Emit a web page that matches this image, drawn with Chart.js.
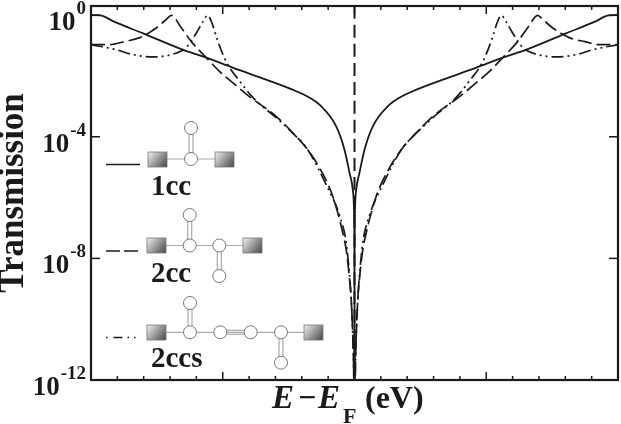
<!DOCTYPE html>
<html>
<head>
<meta charset="utf-8">
<title>Transmission</title>
<script src="https://cdn.jsdelivr.net/npm/chart.js@4"></script>
<style>
  html, body { margin: 0; padding: 0; background: #fff; }
  canvas { display: block; }
</style>
</head>
<body>
<canvas id="chart" width="621" height="424"></canvas>
<script>
// ---------------- DATA (left half, the curves are mirror symmetric) ----------------
const e1cc = [2, 1.93, 1.83, 1.6, 1.305, 1.125, 0.925, 0.67, 0.47, 0.34, 0.266, 0.139, 0.076, 0.038, 0.013, 0.005, 0.002, 0.0005, 0.0001, 0.00002, 0.000004, 0];
const t1cc = [1, 0.985, 0.625, 0.246, 0.0733, 0.04, 0.0188, 0.00755, 0.00354, 0.00193, 0.00114, 2.2e-4, 3.76e-5, 6.6e-6, 1.82e-6, 5.8e-7, 1.28e-7, 9e-9, 4.4e-10, 2.1e-11, 1.2e-12, 1e-14];

const e2cc = [2, 1.86, 1.75, 1.63, 1.505, 1.43, 1.39, 1.32, 1.24, 1.125, 1.025, 0.925, 0.8, 0.595, 0.47, 0.355, 0.266, 0.165, 0.089, 0.063, 0.043, 0.025, 0.012, 0.005, 0];
const t2cc = [0.107, 0.107, 0.134, 0.182, 0.379, 0.711, 0.985, 0.418, 0.137, 0.04, 0.0142, 0.00602, 0.00213, 4.7e-4, 1.36e-4, 3.76e-5, 9.6e-6, 1.1e-6, 7e-8, 1.93e-8, 3.6e-9, 4.4e-10, 2.1e-11, 1e-12, 1e-14];

const e2ccs = [2, 1.81, 1.68, 1.53, 1.35, 1.28, 1.2, 1.15, 1.115, 1.08, 1.05, 0.975, 0.87, 0.77, 0.595, 0.47, 0.355, 0.215, 0.11, 0.063, 0.04, 0.025, 0.012, 0.005, 0];
const t2ccs = [0.107, 0.0733, 0.0502, 0.0422, 0.0571, 0.0834, 0.26, 0.611, 0.985, 0.525, 0.2, 0.0302, 0.00664, 0.00193, 4.25e-4, 1.33e-4, 3.76e-5, 2.65e-6, 2.35e-7, 3.3e-8, 3.6e-9, 4.4e-10, 2.1e-11, 1e-12, 1e-14];

// dashed vertical at the Fermi level
const eFermi = [0, 0];
const tFermi = [1e-12, 2];

const yTicks = [1, 1e-4, 1e-8, 1e-12];
const yExponents = ["0", "-4", "-8", "-12"];
const xMajor = [-2, -1, 0, 1, 2];
const xMinor = [-1.8, -1.6, -1.4, -1.2, -0.8, -0.6, -0.4, -0.2, 0.2, 0.4, 0.6, 0.8, 1.2, 1.4, 1.6, 1.8];

const SERIF = '"Liberation Serif"';
const INK = "#1a1a1a";

// both halves, left to right
function mirrored(xs, ys) {
    const pts = xs.map((x, i) => ({ x: -x, y: ys[i] }));
    for (let i = xs.length - 2; i >= 0; i--) pts.push({ x: xs[i], y: ys[i] });
    return pts;
}

// ---------------- FRAME, TICKS, LABELS ----------------
const framePlugin = {
    id: "frame",
    afterDraw(chart) {
        const { ctx, chartArea: a, scales } = chart;
        ctx.save();
        ctx.strokeStyle = INK;
        ctx.lineWidth = 1.5;
        const seg = (x1, y1, x2, y2) => {
            ctx.beginPath(); ctx.moveTo(x1, y1); ctx.lineTo(x2, y2); ctx.stroke();
        };
        xMajor.forEach(v => {
            const x = scales.x.getPixelForValue(v);
            seg(x, a.bottom, x, a.bottom - 8);
            seg(x, a.top, x, a.top + 8);
        });
        xMinor.forEach(v => {
            const x = scales.x.getPixelForValue(v);
            seg(x, a.bottom, x, a.bottom - 4);
            seg(x, a.top, x, a.top + 4);
        });
        yTicks.forEach(v => {
            const y = scales.y.getPixelForValue(v);
            seg(a.left, y, a.left + 9, y);
            seg(a.right, y, a.right - 9, y);
        });
        ctx.lineWidth = 2.2;
        ctx.strokeRect(a.left, a.top, a.right - a.left, a.bottom - a.top);

        // y tick labels with superscript
        ctx.fillStyle = INK;
        ctx.textBaseline = "alphabetic";
        ctx.textAlign = "right";
        yTicks.forEach((v, i) => {
            const y = scales.y.getPixelForValue(v);
            ctx.font = "bold 19px " + SERIF;
            const w = ctx.measureText(yExponents[i]).width;
            ctx.fillText(yExponents[i], 86, y - 1);
            ctx.font = "bold 27px " + SERIF;
            ctx.fillText("10", 86 - w - 1, y + 15);
        });

        // x axis title
        ctx.textAlign = "left";
        ctx.font = "italic bold 33px " + SERIF;
        ctx.fillText("E", 272, 408);
        ctx.fillText("E", 318, 408);
        ctx.font = "bold 32px " + SERIF;
        ctx.fillText("\u2212", 298, 408);
        ctx.fillText("(eV)", 365, 408);
        ctx.font = "bold 22px " + SERIF;
        ctx.fillText("F", 343, 423);
        ctx.restore();
    }
};

// ---------------- MOLECULE SKETCHES IN THE LEGEND ----------------
function lead(ctx, x, y) {
    const g = ctx.createLinearGradient(x, y, x + 19, y + 15);
    g.addColorStop(0, "#f2f2f2");
    g.addColorStop(1, "#444");
    ctx.fillStyle = g;
    ctx.fillRect(x, y, 19, 15);
    ctx.strokeStyle = "#777";
    ctx.lineWidth = 0.8;
    ctx.strokeRect(x, y, 19, 15);
}

function bond(ctx, x1, y1, x2, y2) {
    ctx.strokeStyle = "#aaa";
    ctx.lineWidth = 1.2;
    ctx.beginPath(); ctx.moveTo(x1, y1); ctx.lineTo(x2, y2); ctx.stroke();
}

function doubleBond(ctx, x1, y1, x2, y2) {
    if (x1 === x2) {
        bond(ctx, x1 - 2, y1, x2 - 2, y2);
        bond(ctx, x1 + 2, y1, x2 + 2, y2);
    } else {
        bond(ctx, x1, y1 - 2, x2, y2 - 2);
        bond(ctx, x1, y1 + 2, x2, y2 + 2);
    }
}

function atom(ctx, x, y) {
    ctx.fillStyle = "#fff";
    ctx.strokeStyle = "#777";
    ctx.lineWidth = 1;
    ctx.beginPath(); ctx.arc(x, y, 6.5, 0, Math.PI * 2); ctx.fill(); ctx.stroke();
}

function sampleLine(ctx, y, dash) {
    ctx.strokeStyle = INK;
    ctx.lineWidth = 1.4;
    ctx.setLineDash(dash);
    ctx.beginPath(); ctx.moveTo(106, y); ctx.lineTo(140, y); ctx.stroke();
    ctx.setLineDash([]);
}

const keyPlugin = {
    id: "key",
    afterDraw(chart) {
        const ctx = chart.ctx;
        ctx.save();

        // 1cc
        sampleLine(ctx, 164.5, []);
        bond(ctx, 167, 159, 215, 159);
        doubleBond(ctx, 191, 128, 191, 159);
        lead(ctx, 148, 152);
        lead(ctx, 215, 152);
        atom(ctx, 191, 128);
        atom(ctx, 191, 159);

        // 2cc
        sampleLine(ctx, 251, [14, 4]);
        bond(ctx, 166, 245.5, 243, 245.5);
        doubleBond(ctx, 189.7, 215, 189.7, 245.5);
        doubleBond(ctx, 219.3, 245.5, 219.3, 276);
        lead(ctx, 147, 238);
        lead(ctx, 243, 238);
        atom(ctx, 189.7, 215);
        atom(ctx, 189.7, 245.5);
        atom(ctx, 219.3, 245.5);
        atom(ctx, 219.3, 276);

        // 2ccs
        sampleLine(ctx, 337.5, [1.5, 6, 9, 5, 1.5, 5, 1.5, 20]);
        bond(ctx, 166, 332.3, 304, 332.3);
        doubleBond(ctx, 190, 303, 190, 332.3);
        doubleBond(ctx, 220.3, 332.3, 250.7, 332.3);
        doubleBond(ctx, 281, 332.3, 281, 362.7);
        lead(ctx, 147, 325);
        lead(ctx, 304, 325);
        [[190, 303], [190, 332.3], [220.3, 332.3], [250.7, 332.3], [281, 332.3], [281, 362.7]]
            .forEach(p => atom(ctx, p[0], p[1]));

        ctx.fillStyle = INK;
        ctx.font = "bold 29px " + SERIF;
        ctx.textAlign = "left";
        ctx.fillText("1cc", 151, 195);
        ctx.fillText("2cc", 151, 282);
        ctx.fillText("2ccs", 151, 367);
        ctx.restore();
    }
};

// ---------------- CHART ----------------
const line = (label, data, dash, width) => ({
    label: label,
    data: data,
    borderColor: INK,
    borderWidth: width,
    borderDash: dash,
    pointRadius: 0,
    cubicInterpolationMode: "monotone",
    fill: false
});

new Chart(document.getElementById("chart"), {
    type: "line",
    data: {
        datasets: [
            line("1cc", mirrored(e1cc, t1cc), [], 1.8),
            line("2cc", mirrored(e2cc, t2cc), [14, 5], 1.7),
            line("2ccs", mirrored(e2ccs, t2ccs), [12, 4, 2, 4, 2, 4], 1.7),
            line("EF", eFermi.map((x, i) => ({ x: x, y: tFermi[i] })), [13, 6], 2)
        ]
    },
    plugins: [framePlugin, keyPlugin],
    options: {
        responsive: false,
        animation: false,
        parsing: false,
        layout: { padding: { left: 0, top: 6, right: 3, bottom: 0 } },
        plugins: { legend: { display: false }, tooltip: { enabled: false } },
        scales: {
            x: {
                type: "linear",
                min: -2,
                max: 2,
                grid: { display: false, drawTicks: false },
                border: { display: false },
                ticks: { display: false },
                afterFit(scale) { scale.height = 44; }
            },
            y: {
                type: "logarithmic",
                min: 1e-12,
                max: 2,
                grid: { display: false, drawTicks: false },
                border: { display: false },
                ticks: { display: false },
                title: {
                    display: true,
                    text: "Transmission",
                    color: INK,
                    font: { family: SERIF, size: 35, weight: "bold", lineHeight: 0.8 },
                    padding: 0
                },
                afterFit(scale) { scale.width = 91; }
            }
        }
    }
});
</script>
</body>
</html>
